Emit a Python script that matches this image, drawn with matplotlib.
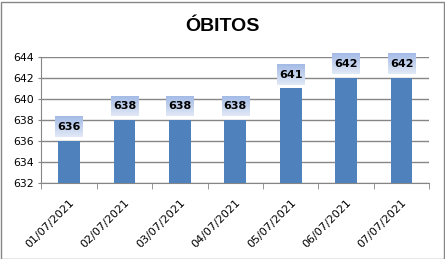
import numpy as np
import matplotlib
matplotlib.use('Agg')
import matplotlib.pyplot as plt
from matplotlib.patches import Rectangle
from matplotlib.colors import LinearSegmentedColormap

dates = ['01/07/2021', '02/07/2021', '03/07/2021', '04/07/2021',
         '05/07/2021', '06/07/2021', '07/07/2021']
obitos = [636, 638, 638, 638, 641, 642, 642]
y_ticks = [632, 634, 636, 638, 640, 642, 644]

plt.rcParams['font.family'] = ['DejaVu Sans']

W, H, DPI = 445, 259, 100
fig = plt.figure(figsize=(W / DPI, H / DPI), dpi=DPI)
ax_l, ax_r, ax_t, ax_b = 41.3, 429.3, 56.7, 183.3
ax = fig.add_axes([ax_l / W, 1 - ax_b / H, (ax_r - ax_l) / W, (ax_b - ax_t) / H])

x = np.arange(len(dates))
ax.bar(x, obitos, width=0.39, color='#4f81bd', zorder=3)
ax.set_xlim(-0.5, len(dates) - 0.5)
ax.set_ylim(632, 644)
ax.set_yticks(y_ticks)
ax.set_yticklabels([str(v) for v in y_ticks], fontsize=7.8)
ax.yaxis.grid(True, color='#868686', lw=1, zorder=0)
ax.tick_params(axis='y', length=2, color='#868686', pad=3)

ax.set_xticks(x)
ax.set_xticklabels(dates, rotation=45, ha='right', rotation_mode='anchor', fontsize=8)
ax.tick_params(axis='x', which='major', length=0, pad=10)
ax.set_xticks(np.arange(-0.5, len(dates)), minor=True)
ax.tick_params(axis='x', which='minor', length=4, color='#868686')

for s in ['top', 'right']:
    ax.spines[s].set_visible(False)
for s in ['left', 'bottom']:
    ax.spines[s].set_color('#868686')

# data labels with gradient box
px_x = (ax_r - ax_l) / len(dates)
px_y = (ax_b - ax_t) / 12
bw, bh, gap = 27.5 / px_x, 20 / px_y, 3.7 / px_y
cmap = LinearSegmentedColormap.from_list('lbl', ['#e2e9f6', '#a3bbe6'])
grad = np.linspace(0, 1, 64).reshape(-1, 1)
for i, v in enumerate(obitos):
    y0 = v + gap
    ax.imshow(grad, cmap=cmap, origin='lower', aspect='auto',
              extent=(i - bw / 2, i + bw / 2, y0, y0 + bh),
              zorder=4, clip_on=False)
    ax.text(i, y0 + bh / 2, str(v), ha='center', va='center',
            fontsize=8, fontweight='bold', zorder=5)
ax.set_xlim(-0.5, len(dates) - 0.5)
ax.set_ylim(632, 644)

fig.text(0.5, 1 - 26.5 / H, 'ÓBITOS', ha='center', va='center',
         fontsize=14, fontweight='bold', family='Liberation Sans')

fig.patches.append(Rectangle((0.5 / W, 0.5 / H), 1 - 2 / W, 1 - 2 / H,
                             transform=fig.transFigure, fill=False,
                             edgecolor='#868686', lw=1))

fig.savefig('out.png', dpi=DPI, facecolor='white')
